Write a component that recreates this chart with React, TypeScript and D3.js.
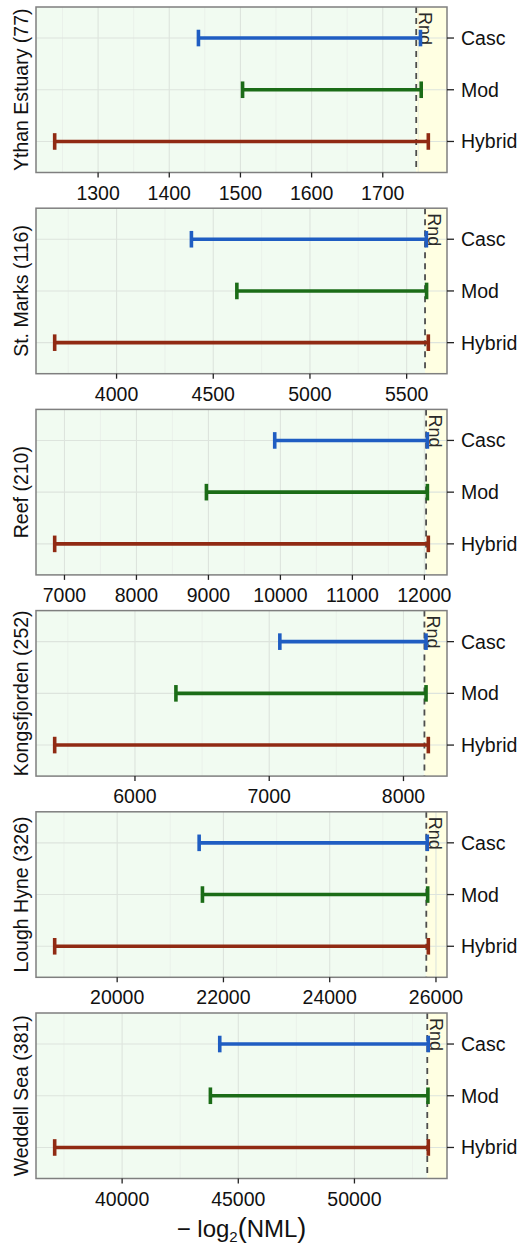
import React from 'react';
import * as d3 from 'd3';

// one panel per food web
const sites = ['Ythan Estuary (77)', 'St. Marks (116)', 'Reef (210)', 'Kongsfjorden (252)', 'Lough Hyne (326)', 'Weddell Sea (381)'];
const models = ['Casc', 'Mod', 'Hybrid'];

const cascLow = [1441, 4387, 9921, 7079, 21543, 44202];
const cascHigh = [1753, 5602, 12042, 8168, 25837, 53178];
const modLow = [1503, 4622, 8972, 6305, 21605, 43799];
const modHigh = [1754, 5603, 12042, 8168, 25844, 53165];
const hybridLow = [1239, 3680, 6864, 5402, 18824, 37097];
const hybridHigh = [1764, 5612, 12055, 8185, 25856, 53180];
const rndValues = [1747, 5595, 12024, 8156, 25818, 53135];

const xTicks = [
  [1300, 1400, 1500, 1600, 1700],
  [4000, 4500, 5000, 5500],
  [7000, 8000, 9000, 10000, 11000, 12000],
  [6000, 7000, 8000],
  [20000, 22000, 24000, 26000],
  [40000, 45000, 50000],
];

const colors = { Casc: '#1f5dc2', Mod: '#1b6c17', Hybrid: '#902a13' };
const font = '"Liberation Sans", Arial, Helvetica, sans-serif';

const W = 524;
const H = 1245;
const left = 36;
const right = 447;
const top0 = 7;
const pitch = 201.2;
const panelH = 165.5;

const Panel = ({ i }: { i: number }) => {
  const top = top0 + i * pitch;
  const bottom = top + panelH;
  const ranges = [
    { m: 'Casc', lo: cascLow[i], hi: cascHigh[i] },
    { m: 'Mod', lo: modLow[i], hi: modHigh[i] },
    { m: 'Hybrid', lo: hybridLow[i], hi: hybridHigh[i] },
  ];
  const allVals = ranges.flatMap((r) => [r.lo, r.hi]).concat(rndValues[i]);
  const [mn, mx] = d3.extent(allVals) as [number, number];
  const pad = (mx - mn) * 0.05;
  const x = d3.scaleLinear().domain([mn - pad, mx + pad]).range([left, right]);
  const y = d3.scalePoint().domain(models).range([top, bottom]).padding(0.6);

  const ticks = xTicks[i];
  const step = ticks[1] - ticks[0];
  const minor = d3
    .range(ticks[0] - step / 2, mx + pad, step)
    .filter((v) => v > mn - pad && v < mx + pad);
  const xr = x(rndValues[i]);
  const capH = 8.3;

  return (
    <g>
      <rect x={left} y={top} width={xr - left} height={panelH} fill="#f1fbf1" />
      <rect x={xr} y={top} width={right - xr} height={panelH} fill="#ffffe2" />
      {minor.map((v) => (
        <line key={'m' + v} x1={x(v)} x2={x(v)} y1={top} y2={bottom} stroke="#e8efe8" strokeWidth={0.8} />
      ))}
      {ticks.map((v) => (
        <line key={'g' + v} x1={x(v)} x2={x(v)} y1={top} y2={bottom} stroke="#dde4dd" strokeWidth={1.1} />
      ))}
      {models.map((m) => (
        <line key={'h' + m} x1={left} x2={right} y1={y(m)} y2={y(m)} stroke="#dde4dd" strokeWidth={1.1} />
      ))}
      <line x1={xr} x2={xr} y1={top} y2={bottom} stroke="#4d4d4d" strokeWidth={1.8} strokeDasharray="6,5" />
      <text
        transform={`translate(${xr + 3},${top + 5}) rotate(90)`}
        fontFamily={font}
        fontSize={18}
        fill="#2a2a2a"
      >
        Rnd
      </text>
      {ranges.map((r) => {
        const yy = y(r.m) as number;
        const c = (colors as any)[r.m];
        return (
          <g key={r.m}>
            <line x1={x(r.lo)} x2={x(r.hi)} y1={yy} y2={yy} stroke={c} strokeWidth={3.6} />
            <line x1={x(r.lo)} x2={x(r.lo)} y1={yy - capH} y2={yy + capH} stroke={c} strokeWidth={3.6} />
            <line x1={x(r.hi)} x2={x(r.hi)} y1={yy - capH} y2={yy + capH} stroke={c} strokeWidth={3.6} />
          </g>
        );
      })}
      <rect x={left} y={top} width={right - left} height={panelH} fill="none" stroke="#7f7f7f" strokeWidth={1.5} />
      {ticks.map((v) => (
        <g key={'t' + v}>
          <line x1={x(v)} x2={x(v)} y1={bottom} y2={bottom + 5} stroke="#222" strokeWidth={1.3} />
          <text x={x(v)} y={bottom + 27} textAnchor="middle" fontFamily={font} fontSize={19.5} fill="#111">
            {v}
          </text>
        </g>
      ))}
      {models.map((m) => (
        <g key={'y' + m}>
          <line x1={right} x2={right + 7} y1={y(m)} y2={y(m)} stroke="#222" strokeWidth={1.3} />
          <text x={right + 14} y={y(m)} dy="0.36em" fontFamily={font} fontSize={19.5} fill="#111">
            {m}
          </text>
        </g>
      ))}
      <text
        transform={`translate(28,${(top + bottom) / 2}) rotate(-90)`}
        textAnchor="middle"
        fontFamily={font}
        fontSize={19.5}
        fill="#111"
      >
        {sites[i]}
      </text>
    </g>
  );
};

const App = () => {
  return (
    <svg
      width={W}
      height={H}
      style={{ position: 'absolute', left: 0, top: 0, background: '#fff' }}
    >
      <rect width={W} height={H} fill="#fff" />
      {sites.map((s, i) => (
        <Panel key={s} i={i} />
      ))}
      <text x={(left + right) / 2} y={1237} textAnchor="middle" fontFamily={font} fontSize={24} fill="#111">
        {'− log'}
        <tspan fontSize={15} dy={5}>2</tspan>
        <tspan dy={-5} fontSize={27}>(</tspan>
        <tspan>NML</tspan>
        <tspan fontSize={27}>)</tspan>
      </text>
    </svg>
  );
};

export default App;
